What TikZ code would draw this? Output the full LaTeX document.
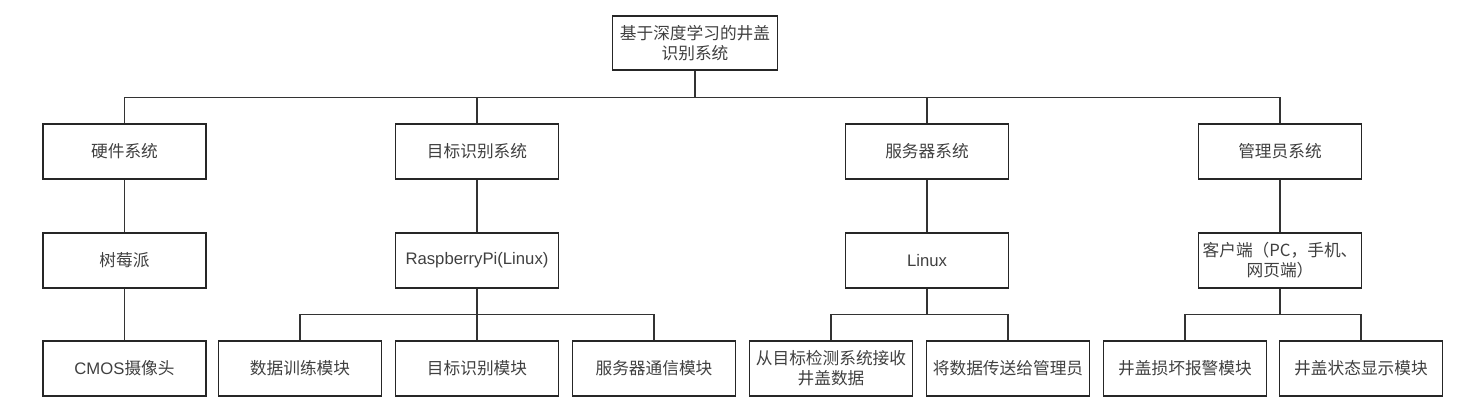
\documentclass[tikz,border=0pt]{standalone}
\usepackage{fontspec}
\setmainfont{Liberation Sans}
\newfontfamily\cjk{Noto Sans CJK SC}
\begin{document}
\begin{tikzpicture}[scale=1,
    box/.style={draw=black!85, line width=0.7pt, minimum width=3.26cm, minimum height=1.1cm,
                inner sep=1pt, align=center, font=\fontsize{9.5pt}{11.5pt}\selectfont, text=black!75},
    link/.style={draw=black!80, line width=0.8pt}]

    \useasboundingbox (0,0) rectangle (29.16,8.18);

    % root
    \node[box, minimum width=3.3cm, minimum height=1.08cm] (root) at (13.9,7.32){\cjk{基于深度学习的井盖}\\\cjk{识别系统}};

    % subsystems
    \node[box] (hw) at (2.49,5.15){\cjk{硬件系统}};
    \node[box] (det) at (9.54,5.15){\cjk{目标识别系统}};
    \node[box] (srv) at (18.54,5.15){\cjk{服务器系统}};
    \node[box] (adm) at (25.6,5.15){\cjk{管理员系统}};

    % platforms
    \node[box] (pi) at (2.49,2.97){\cjk{树莓派}};
    \node[box] (rpi) at (9.54,2.97){RaspberryPi(Linux)};
    \node[box] (linux) at (18.54,2.97){Linux};
    \node[box] (client) at (25.6,2.97){\cjk{客户端（}PC\cjk{，手机、}\\\cjk{网页端）}};

    % modules
    \node[box] (cmos) at (2.49,0.81){CMOS\cjk{摄像头}};
    \node[box] (train) at (6.0,0.81){\cjk{数据训练模块}};
    \node[box] (recog) at (9.54,0.81){\cjk{目标识别模块}};
    \node[box] (comm) at (13.08,0.81){\cjk{服务器通信模块}};
    \node[box] (recv) at (16.62,0.81){\cjk{从目标检测系统接收}\\\cjk{井盖数据}};
    \node[box] (send) at (20.16,0.81){\cjk{将数据传送给管理员}};
    \node[box] (alarm) at (23.7,0.81){\cjk{井盖损坏报警模块}};
    \node[box] (state) at (27.22,0.81){\cjk{井盖状态显示模块}};

    % connectors
    \foreach \c in {hw,det,srv,adm}
        \draw[link] (root.south) -- ++(0,-0.54) -| (\c.north);
    \draw[link] (hw) -- (pi);
    \draw[link] (det) -- (rpi);
    \draw[link] (srv) -- (linux);
    \draw[link] (adm) -- (client);
    \draw[link] (pi) -- (cmos);
    \foreach \c in {train,recog,comm}
        \draw[link] (rpi.south) -- ++(0,-0.52) -| (\c.north);
    \foreach \c in {recv,send}
        \draw[link] (linux.south) -- ++(0,-0.52) -| (\c.north);
    \foreach \c in {alarm,state}
        \draw[link] (client.south) -- ++(0,-0.52) -| (\c.north);
\end{tikzpicture}
\end{document}
